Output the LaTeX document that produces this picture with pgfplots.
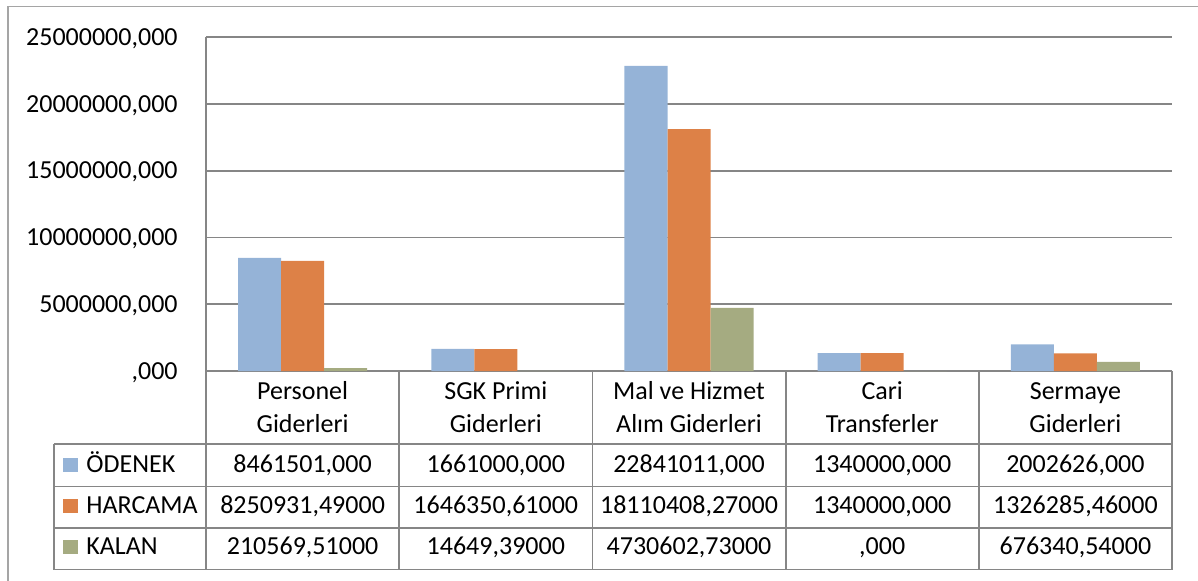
\documentclass[border=0pt]{standalone}
\usepackage{pgfplots}
\pgfplotsset{compat=1.18}
\usepackage{fontspec}
\setmainfont{Carlito}
\definecolor{cB}{RGB}{149,179,215}
\definecolor{cO}{RGB}{221,129,71}
\definecolor{cG}{RGB}{165,171,129}
\definecolor{gridc}{RGB}{134,134,134}
\definecolor{framec}{RGB}{165,165,165}
\newcommand{\cl}[2]{\rule{0pt}{10pt}#1\\#2}
\newcommand{\fs}{\fontsize{13}{16.5}\selectfont}
\newcommand{\cell}[3]{\node[anchor=base, inner sep=0pt] at (#1,#2) {#3};}
\begin{document}
\begin{tikzpicture}[font=\fs]
\useasboundingbox (-103pt,185.5pt) rectangle (496pt,-104.5pt);
\begin{scope}[x=0.5pt,y=-0.5pt,shift={(-103pt,185.5pt)}]
  \draw[framec, line width=0.8pt] (8,600) -- (8,6.5) -- (1230,6.5);
  % table grid
  \draw[gridc, line width=0.9pt]
    (206,371) -- (1172,371)
    (54,444) -- (1172,444)
    (54,486.5) -- (1172,486.5)
    (54,528) -- (1172,528)
    (54,569.5) -- (1172,569.5)
    (54,444) -- (54,569.5)
    (206,371) -- (206,569.5)
    (399.2,371) -- (399.2,569.5)
    (592.4,371) -- (592.4,569.5)
    (785.6,371) -- (785.6,569.5)
    (978.8,371) -- (978.8,569.5)
    (1172,371) -- (1172,569.5);
  % legend keys
  \fill[cB] (63,458) rectangle (78,472);
  \fill[cO] (63,499) rectangle (78,513);
  \fill[cG] (63,540) rectangle (78,554);
  \node[anchor=base west, inner sep=0pt] at (86,472) {ÖDENEK};
  \node[anchor=base west, inner sep=0pt] at (86,513) {HARCAMA};
  \node[anchor=base west, inner sep=0pt] at (86,554) {KALAN};
  % values
  \cell{302.6}{472}{8461501,000}
  \cell{302.6}{513}{8250931,49000}
  \cell{302.6}{554}{210569,51000}
  \cell{495.8}{472}{1661000,000}
  \cell{495.8}{513}{1646350,61000}
  \cell{495.8}{554}{14649,39000}
  \cell{689.0}{472}{22841011,000}
  \cell{689.0}{513}{18110408,27000}
  \cell{689.0}{554}{4730602,73000}
  \cell{882.2}{472}{1340000,000}
  \cell{882.2}{513}{1340000,000}
  \cell{882.2}{554}{,000}
  \cell{1075.4}{472}{2002626,000}
  \cell{1075.4}{513}{1326285,46000}
  \cell{1075.4}{554}{676340,54000}
\end{scope}
\begin{axis}[at={(0,0)}, anchor=south west, scale only axis,
  width=483pt, height=167pt,
  xmin=-0.5, xmax=4.5, ymin=0, ymax=25000000,
  ybar=0pt, bar width=21.5pt,
  axis lines*=left, axis line style={gridc, line width=0.9pt, -},
  xtick={0,1,2,3,4},
  xticklabels={{\cl{Personel}{Giderleri}},{\cl{SGK Primi}{Giderleri}},{\cl{Mal ve Hizmet}{Alım Giderleri}},{\cl{Cari}{Transferler}},{\cl{Sermaye}{Giderleri}}},
  xticklabel style={anchor=north, inner sep=0pt, align=center, yshift=-4pt, font=\fs},
  ytick={0,5000000,10000000,15000000,20000000,25000000},
  yticklabels={{,000},{5000000,000},{10000000,000},{15000000,000},{20000000,000},{25000000,000}},
  yticklabel style={anchor=base east, inner sep=0pt, xshift=-14pt, yshift=-4.1pt, font=\fs},
  scaled y ticks=false,
  major tick length=0pt,
  ymajorgrids, grid style={gridc, line width=0.9pt},
  clip=false]
\addplot[fill=cB, draw=none] coordinates {(0,8461501) (1,1661000) (2,22841011) (3,1340000) (4,2002626)};
\addplot[fill=cO, draw=none] coordinates {(0,8250931.49) (1,1646350.61) (2,18110408.27) (3,1340000) (4,1326285.46)};
\addplot[fill=cG, draw=none] coordinates {(0,210569.51) (1,14649.39) (2,4730602.73) (3,0) (4,676340.54)};
\end{axis}
\end{tikzpicture}
\end{document}
